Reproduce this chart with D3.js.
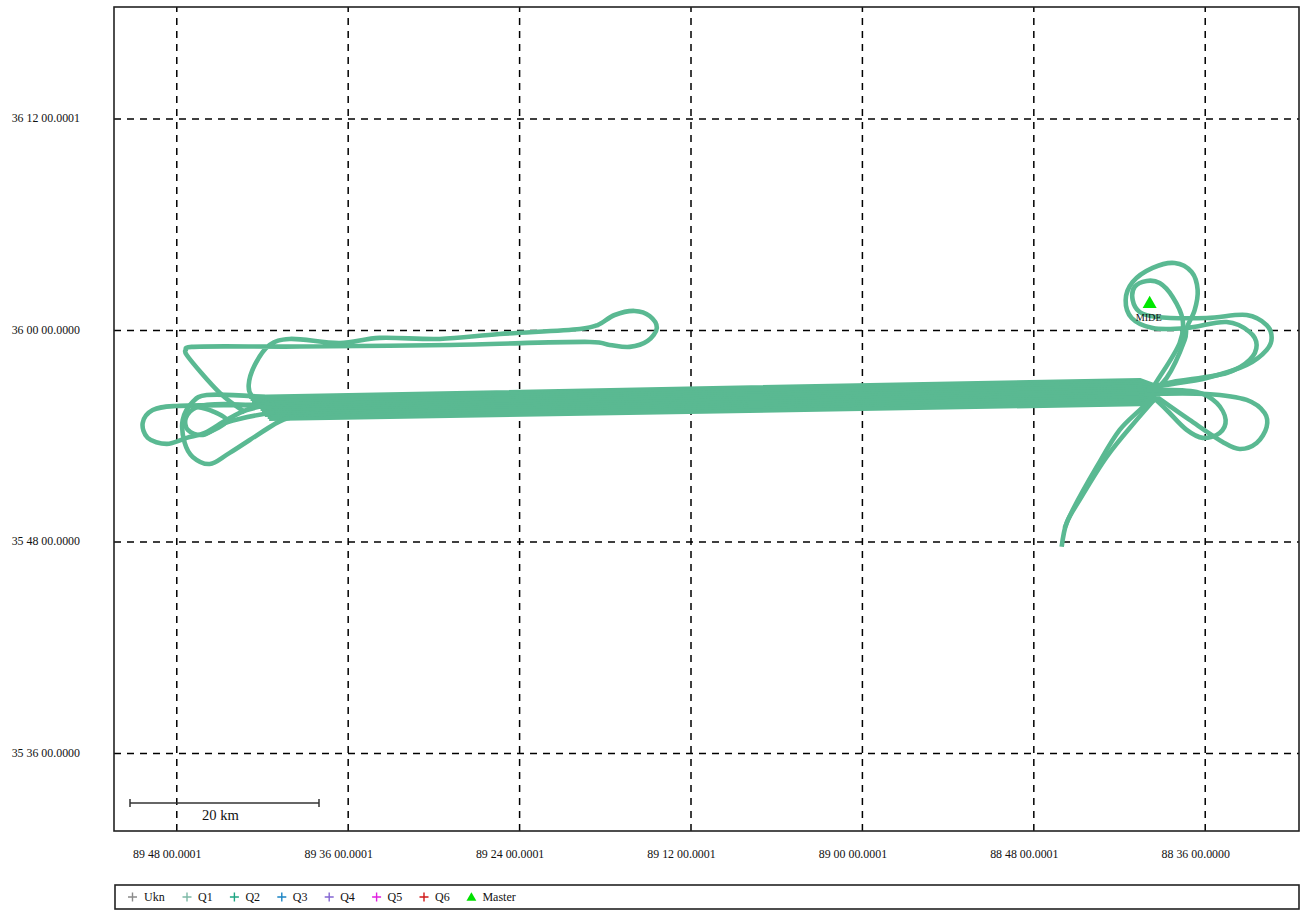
<!DOCTYPE html>
<html><head><meta charset="utf-8">
<script src="https://cdn.jsdelivr.net/npm/d3@7"></script>
<style>html,body{margin:0;padding:0;background:#fff}svg{display:block}text{font-family:"Liberation Serif",serif;fill:#111}</style>
</head><body><svg id="c" width="1302" height="910"></svg>
<script>
// Longitude: minutes west of 88°. Latitude: minutes relative to 36°N.
const lonTicks = [108, 96, 84, 72, 60, 48, 36];
const lonLabels = ["89 48 00.0001","89 36 00.0001","89 24 00.0001","89 12 00.0001","89 00 00.0001","88 48 00.0001","88 36 00.0000"];
const latTicks = [12, 0, -12, -24];
const latLabels = ["36 12 00.0001","36 00 00.0000","35 48 00.0000","35 36 00.0000"];

const bandWestLon = [102.9,102.8,102.7,102.6,102.4,102.3,102.1,102.0,101.9,101.8,101.6,101.5];
const bandWestLat = [-3.80,-3.91,-4.03,-4.14,-4.25,-4.37,-4.48,-4.59,-4.71,-4.82,-4.93,-5.05];
const bandEastLat = [-2.84,-2.96,-3.09,-3.21,-3.34,-3.46,-3.59,-3.71,-3.84,-3.96,-4.09,-4.21];
const bandTipLat  = [-3.15,-3.22,-3.30,-3.38,-3.45,-3.52,-3.60,-3.67,-3.75,-3.82,-3.90,-3.98];
const bandEastLon = 40.55;
const bandTipLon = 39.5;

const trackNorth = [[103.2,-4.65],[104.955,-3.57],[107.27,-1.42],[107.33,-1.13],[106.92,-0.96],[99.36,-0.94],[88.86,-0.85],[79.06,-0.68],[77.66,-0.85],[76.26,-0.96],[75.0,-0.62],[74.36,0.11],[74.86,0.79],[75.91,1.08],[77.31,0.85],[78.5,0.28],[79.75,0.06],[85.36,-0.23],[89.56,-0.51],[93.76,-0.45],[96.56,-0.74],[100.06,-0.51],[101.46,-0.85],[102.5,-1.98],[102.93,-3.12],[102.72,-3.74],[102.02,-4.08]];
const trackWest = [[101.455,-4.20],[103.07,-4.25],[107.97,-4.31],[109.65,-4.54],[110.35,-5.27],[110.0,-6.12],[108.67,-6.46],[107.27,-6.12],[106.0,-5.84],[104.47,-5.10],[103.07,-4.54],[101.1,-4.20]];
const trackSouthWest = [[101.8,-3.80],[105.87,-3.69],[106.85,-4.08],[107.55,-5.10],[107.41,-6.41],[106.85,-7.20],[105.66,-7.60],[104.26,-6.97],[100.97,-5.27],[100.06,-4.99]];
const trackInnerWest = [[101.31,-4.42],[104.6,-4.20],[106.56,-4.37],[107.33,-4.99],[107.19,-5.67],[106.14,-5.95],[104.39,-5.22],[101.1,-4.65]];
const trackInnerWest2 = [[106.56,-4.37],[105.51,-4.59],[104.47,-5.16],[106.0,-5.90]];
const trackEastA = [[39.855,-3.51],[39.295,-2.84],[37.755,-0.74],[37.545,0.57],[38.245,1.87],[39.155,2.66],[40.065,2.78],[40.905,2.44],[41.045,1.70],[40.555,1.02],[39.365,0.74],[35.865,0.68],[33.065,0.85],[31.665,0.28],[31.315,-0.45],[31.665,-1.13],[33.065,-1.98],[35.865,-2.72],[39.365,-3.23],[40.2,-3.51]];
const trackEastB = [[39.995,-3.69],[38.665,-2.72],[37.405,-0.57],[37.265,0.11],[36.705,1.13],[36.495,2.27],[36.915,3.29],[38.105,3.80],[39.645,3.52],[41.045,2.72],[41.535,1.70],[41.115,0.68],[39.645,0.11],[37.265,0.11],[34.465,0.45],[32.855,-0.11],[32.365,-0.85],[32.855,-1.70],[34.465,-2.44],[38.245,-2.95],[39.995,-3.29]];
const trackEastC = [[40.2,-3.63],[35.865,-3.63],[33.065,-3.97],[31.805,-4.71],[31.665,-5.50],[32.365,-6.41],[33.555,-6.75],[34.745,-6.35],[37.055,-5.10],[39.855,-3.51]];
const trackEastD = [[40.065,-3.40],[36.565,-3.52],[35.165,-4.14],[34.535,-5.10],[34.955,-5.84],[36.145,-6.12],[37.265,-5.67],[38.665,-4.54],[39.715,-3.74]];
const trackTailA = [[39.365,-3.80],[40.765,-5.10],[42.865,-7.20],[44.755,-9.64],[45.665,-10.94],[46.015,-12.30]];
const trackTailB = [[39.5,-3.52],[40.345,-4.37],[41.955,-5.67],[43.565,-7.77],[45.245,-10.21],[45.805,-11.23]];
const master = {name:"MIDE", lon:39.855, lat:1.59};

const legendNames = ["Ukn","Q1","Q2","Q3","Q4","Q5","Q6","Master"];
const legendColors = ["#8a8a8a","#7db9a6","#1fa583","#1b84c4","#8466d2","#e020e0","#d01818","#00e000"];
const scaleKm = 20, scaleLabel = "20 km";

const trackColor = "#5ab992";
const box = {l:114, r:1299, t:7, b:831};
const svg = d3.select("#c");
const x = d3.scaleLinear().domain([112.36, 29.40]).range([box.l, box.r]);
const y = d3.scaleLinear().domain([18.32, -28.42]).range([box.t, box.b]);
const pxPerKm = 9.45;

const gx = svg.append("g").attr("transform",`translate(0,${box.b})`)
  .call(d3.axisBottom(x).tickValues(lonTicks).tickFormat((d,i)=>lonLabels[i]).tickSize(-(box.b-box.t)).tickPadding(0));
gx.select(".domain").remove();
gx.selectAll("line").attr("stroke","#000").attr("stroke-width",1.5).attr("stroke-dasharray","7 6");
gx.selectAll("text").attr("dx",-9.5).attr("y",23).attr("dy","0.32em").attr("font-size","11.9px").attr("fill","#111");

const gy = svg.append("g").attr("transform",`translate(${box.l},0)`)
  .call(d3.axisLeft(y).tickValues(latTicks).tickFormat((d,i)=>latLabels[i]).tickSize(-(box.r-box.l)).tickPadding(0));
gy.select(".domain").remove();
gy.selectAll("line").attr("stroke","#000").attr("stroke-width",1.5).attr("stroke-dasharray","7 6");
gy.selectAll("text").attr("x",-34).attr("y",-0.5).attr("dy","0.32em").attr("font-size","11.9px").attr("fill","#111");

// band of repeated survey lines
const straight = d3.line().x(d=>x(d[0])).y(d=>y(d[1]));
svg.append("g").selectAll("path").data(bandWestLat).join("path")
  .attr("d",(d,i)=>straight([[bandWestLon[i],d],[bandEastLon,bandEastLat[i]],[bandTipLon,bandTipLat[i]]]))
  .attr("fill","none").attr("stroke",trackColor).attr("stroke-width",4.2).attr("stroke-linejoin","round");

const curve = d3.line().x(d=>x(d[0])).y(d=>y(d[1])).curve(d3.curveCatmullRom.alpha(0.2));
const tracks = [trackNorth,trackWest,trackSouthWest,trackInnerWest,trackInnerWest2,trackEastA,trackEastB,trackEastC,trackEastD,trackTailA,trackTailB];
svg.append("g").selectAll("path").data(tracks).join("path")
  .attr("d",curve).attr("fill","none").attr("stroke",trackColor)
  .attr("stroke-width",4.6).attr("stroke-linejoin","round");

// master station
const tri = d3.symbol().type(d3.symbolTriangle);
svg.append("path").attr("d",tri.size(85)()).attr("fill","#00e800")
  .attr("transform",`translate(${x(master.lon)},${y(master.lat)+2})`);
svg.append("text").attr("x",x(master.lon)-1).attr("y",y(master.lat)+19).attr("text-anchor","middle")
  .attr("font-size","10.2px").text(master.name);

svg.append("rect").attr("x",box.l).attr("y",box.t).attr("width",box.r-box.l).attr("height",box.b-box.t)
  .attr("fill","none").attr("stroke","#222").attr("stroke-width",1.6);

// scale bar
const sbL = 130, sbR = sbL + scaleKm*pxPerKm, sbY = 803;
const sb = svg.append("g").attr("stroke","#333").attr("stroke-width",1.5);
sb.append("line").attr("x1",sbL).attr("x2",sbR).attr("y1",sbY).attr("y2",sbY);
sb.append("line").attr("x1",sbL).attr("x2",sbL).attr("y1",sbY-4).attr("y2",sbY+4);
sb.append("line").attr("x1",sbR).attr("x2",sbR).attr("y1",sbY-4).attr("y2",sbY+4);
svg.append("text").attr("x",202).attr("y",820).attr("font-size","14.6px").text(scaleLabel);

// legend
svg.append("rect").attr("x",115).attr("y",885).attr("width",1184).attr("height",24)
  .attr("fill","none").attr("stroke","#222").attr("stroke-width",1.6);
const lg = svg.append("g").selectAll("g").data(legendNames).join("g")
  .attr("transform",(d,i)=>`translate(${i===0?132.5:187+(i-1)*47.4},897)`);
lg.each(function(d,i){
  const g = d3.select(this);
  if(d==="Master"){
    g.append("path").attr("d",tri.size(42)()).attr("fill",legendColors[i]).attr("transform","translate(0,1)");
  } else {
    g.append("path").attr("d","M-4.5,0H4.5M0,-4.5V4.5").attr("stroke",legendColors[i]).attr("stroke-width",1.4);
  }
  g.append("text").attr("x",d==="Ukn"?11.5:11).attr("dy","0.32em").attr("font-size","12px").text(d);
});
</script></body></html>
